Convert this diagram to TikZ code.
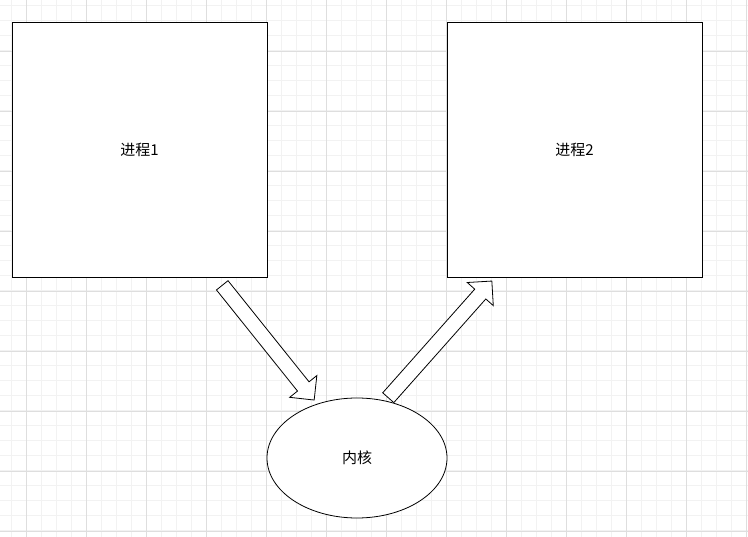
\documentclass[tikz,border=0pt]{standalone}
\usepackage{fontspec}
\setmainfont{Noto Sans CJK SC}
\usetikzlibrary{shapes.geometric,shapes.arrows}
\tikzset{
  proc/.style={draw,thick,minimum width=255pt,minimum height=255pt},
  blockarrow/.style={draw,thick,single arrow,inner sep=7pt,single arrow head extend=10pt,anchor=tail}
}
\begin{document}
\begin{tikzpicture}[x=1pt,y=-1pt,font=\fontsize{15}{17}\selectfont]
\useasboundingbox (0,0) rectangle (748,537);
% grid
\begin{scope}
\clip (0,0) rectangle (748,537);
\draw[black!5,line width=1pt,step=15pt,shift={(11,6)}] (-30,-30) grid (760,560);
\draw[black!13,step=60pt,shift={(26,51)}] (-60,-60) grid (760,560);
\end{scope}

\node[proc,fill=white] (p1) at (139.5,149.5) {进程1};
\node[proc,fill=white] (p2) at (574.5,149.5) {进程2};
\node[draw,thick,ellipse,fill=white,minimum width=180pt,minimum height=120pt] (kern) at (357,458) {内核};

\node[blockarrow,fill=white,minimum height=147pt,rotate=-51.3] (a1) at (222,285) {};
\node[blockarrow,fill=white,minimum height=156pt,rotate=48.4] (a2) at (388,398) {};
\end{tikzpicture}
\end{document}
